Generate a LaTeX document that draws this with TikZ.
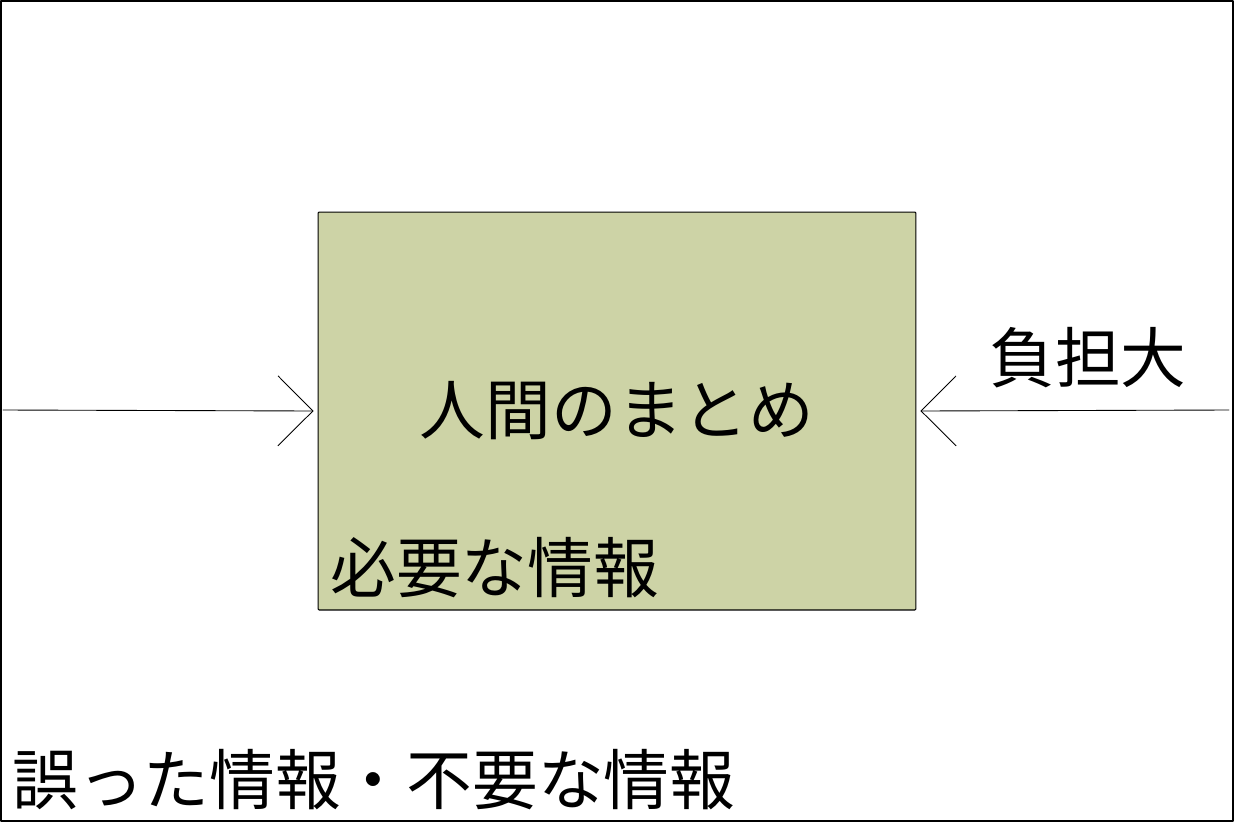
\documentclass[tikz,border=0pt]{standalone}
\usepackage{fontspec}
\setmainfont{Noto Sans CJK JP}
\usetikzlibrary{arrows.meta,positioning}
\definecolor{boxgreen}{RGB}{205,211,166}
\tikzset{
  jtext/.style={font=\fontsize{37.4pt}{41pt}\selectfont, inner sep=0pt},
  kbox/.style={draw, fill=boxgreen, line width=0.6pt, rounded corners=0.6pt,
    minimum width=11.96cm, minimum height=7.96cm, jtext},
  inarrow/.style={line width=0.5pt, -{Straight Barb[length=0.7cm, width=1.4cm, line width=0.5pt]}, shorten >=0.08cm}
}
\begin{document}
\begin{tikzpicture}[x=0.02cm, y=-0.02cm, line join=round, line cap=round]
\useasboundingbox (0,0) rectangle (1234,823);
\draw[line width=0.6pt] (1,1) rectangle (1233,821); % outer frame
\node[kbox] (box) at (617,411) {人間のまとめ};
\node[jtext, anchor=west] (need) at (330,568) {必要な情報};
\node[jtext] (load) at (1088,358) {負担大};
\node[jtext, anchor=west] (wrong) at (12,780) {誤った情報・不要な情報};
\coordinate (lin) at (3,410);
\coordinate (rin) at (1229,410);
\draw[inarrow] (lin) -- (box.west);
\draw[inarrow] (rin) -- (box.east);
\end{tikzpicture}
\end{document}
